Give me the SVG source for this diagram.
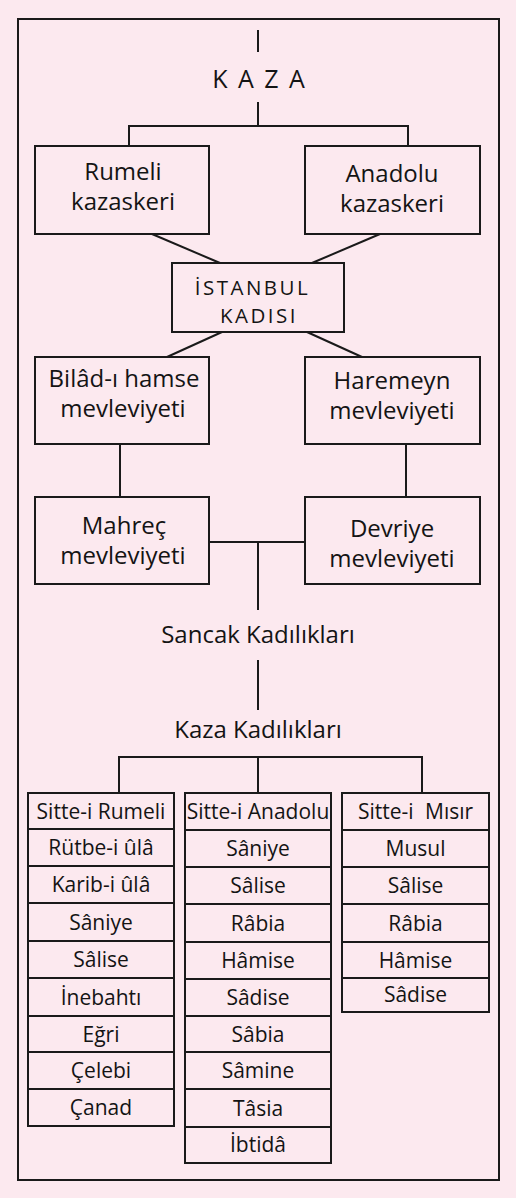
<svg xmlns="http://www.w3.org/2000/svg" width="516" height="1198" viewBox="0 0 516 1198">
<style>
.bg{fill:#fce9ef}
.box{fill:none;stroke:#1a1a1a;stroke-width:2}
.ln{fill:none;stroke:#1a1a1a;stroke-width:2}
text{font-family:"Open Sans","Noto Sans","Liberation Sans",sans-serif;fill:#141414;text-anchor:middle}
.big{font-size:24px}
.mid{font-size:20.5px;letter-spacing:2.5px}
.kaza{font-size:25px;letter-spacing:2px}
.cell{font-size:21px}
</style>
<rect class="bg" x="0" y="0" width="516" height="1198"/>
<rect id="frame" class="box" x="18" y="19" width="481" height="1161"/>

<g id="connectors">
<path class="ln" d="M258 30V52"/>
<path class="ln" d="M258 102V126"/>
<path class="ln" d="M129 146V126H408V146"/>
<path class="ln" d="M152 234L220 263"/>
<path class="ln" d="M380 234L312 263"/>
<path class="ln" d="M222 332L167 357"/>
<path class="ln" d="M307 332L362 357"/>
<path class="ln" d="M120 444V497"/>
<path class="ln" d="M406 444V497"/>
<path class="ln" d="M209 542H305"/>
<path class="ln" d="M258 542V610"/>
<path class="ln" d="M258 660V710"/>
<path class="ln" d="M119 793V757H422V793"/>
<path class="ln" d="M258 757V793"/>
</g>

<g id="kaza"><text class="kaza" x="259.5" y="88">K A Z A</text></g>

<g id="rumeli-kazaskeri">
<rect class="box" x="35" y="146" width="174" height="88"/>
<text class="big" x="123" y="180">Rumeli</text>
<text class="big" x="123" y="210">kazaskeri</text>
</g>
<g id="anadolu-kazaskeri">
<rect class="box" x="305" y="146" width="175" height="88"/>
<text class="big" x="392" y="182">Anadolu</text>
<text class="big" x="392" y="212">kazaskeri</text>
</g>
<g id="istanbul-kadisi">
<rect class="box" x="172" y="263" width="172" height="69"/>
<text class="mid" x="252.5" y="295">İSTANBUL</text>
<text class="mid" x="259" y="323">KADISI</text>
</g>
<g id="bilad">
<rect class="box" x="35" y="357" width="174" height="87"/>
<text class="big" x="124" y="387">Bilâd-ı hamse</text>
<text class="big" x="123" y="417">mevleviyeti</text>
</g>
<g id="haremeyn">
<rect class="box" x="305" y="357" width="175" height="87"/>
<text class="big" x="392" y="389">Haremeyn</text>
<text class="big" x="392" y="419">mevleviyeti</text>
</g>
<g id="mahrec">
<rect class="box" x="35" y="497" width="174" height="87"/>
<text class="big" x="124" y="534">Mahreç</text>
<text class="big" x="123" y="564">mevleviyeti</text>
</g>
<g id="devriye">
<rect class="box" x="305" y="497" width="175" height="87"/>
<text class="big" x="392" y="537">Devriye</text>
<text class="big" x="392" y="567">mevleviyeti</text>
</g>
<g id="sancak"><text class="big" x="258" y="643">Sancak Kadılıkları</text></g>
<g id="kaza-kadiliklari"><text class="big" x="258" y="738">Kaza Kadılıkları</text></g>

<g id="table-rumeli">
<rect class="box" x="28" y="793" width="146" height="333"/>
<path class="ln" d="M28 829H174M28 866H174M28 903H174M28 941H174M28 978H174M28 1016H174M28 1052H174M28 1089H174"/>
<text class="cell" x="101" y="819">Sitte-i Rumeli</text>
<text class="cell" x="101" y="855">Rütbe-i ûlâ</text>
<text class="cell" x="101" y="892">Karib-i ûlâ</text>
<text class="cell" x="101" y="930">Sâniye</text>
<text class="cell" x="101" y="967">Sâlise</text>
<text class="cell" x="101" y="1005">İnebahtı</text>
<text class="cell" x="101" y="1042">Eğri</text>
<text class="cell" x="101" y="1078">Çelebi</text>
<text class="cell" x="101" y="1115">Çanad</text>
</g>
<g id="table-anadolu">
<rect class="box" x="185" y="793" width="146" height="370"/>
<path class="ln" d="M185 830H331M185 867H331M185 904H331M185 942H331M185 979H331M185 1016H331M185 1052H331M185 1089H331M185 1127H331"/>
<text class="cell" x="258" y="819">Sitte-i Anadolu</text>
<text class="cell" x="258" y="856">Sâniye</text>
<text class="cell" x="258" y="893">Sâlise</text>
<text class="cell" x="258" y="931">Râbia</text>
<text class="cell" x="258" y="968">Hâmise</text>
<text class="cell" x="258" y="1005">Sâdise</text>
<text class="cell" x="258" y="1042">Sâbia</text>
<text class="cell" x="258" y="1078">Sâmine</text>
<text class="cell" x="258" y="1116">Tâsia</text>
<text class="cell" x="258" y="1152">İbtidâ</text>
</g>
<g id="table-misir">
<rect class="box" x="342" y="793" width="147" height="219"/>
<path class="ln" d="M342 830H489M342 867H489M342 904H489M342 942H489M342 978H489"/>
<text class="cell" x="415.5" y="819" style="word-spacing:6px">Sitte-i Mısır</text>
<text class="cell" x="415.5" y="856">Musul</text>
<text class="cell" x="415.5" y="893">Sâlise</text>
<text class="cell" x="415.5" y="931">Râbia</text>
<text class="cell" x="415.5" y="968">Hâmise</text>
<text class="cell" x="415.5" y="1002">Sâdise</text>
</g>
</svg>
